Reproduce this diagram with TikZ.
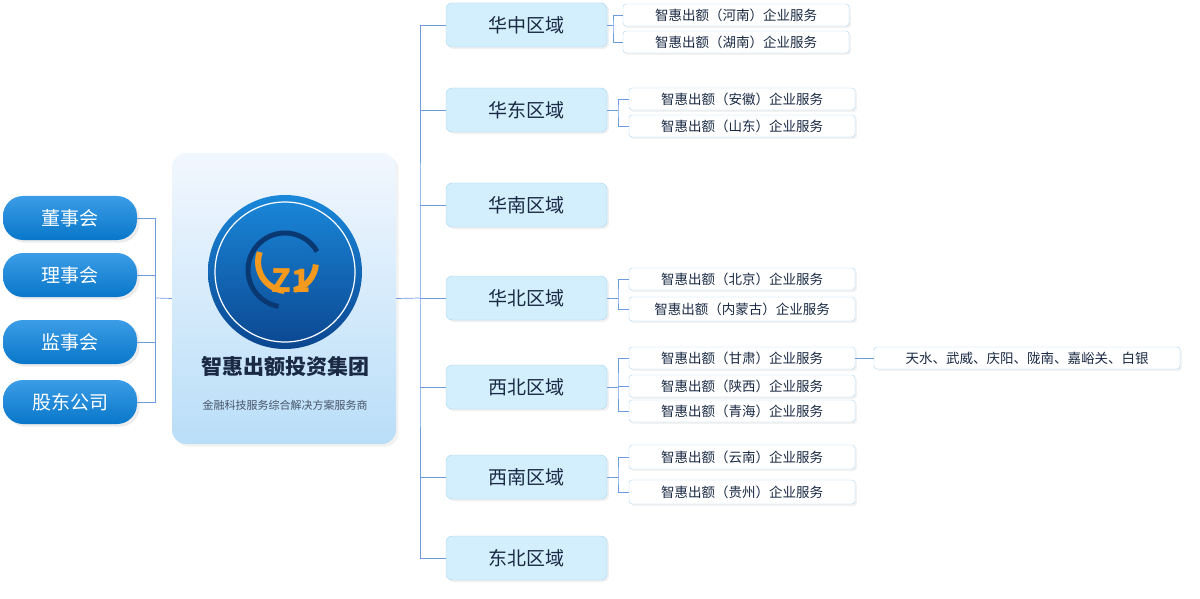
\documentclass[tikz,border=0pt]{standalone}
\usepackage{fontspec}
\setmainfont{Noto Sans CJK SC}
\usetikzlibrary{shadows}
\definecolor{ln}{HTML}{6C9BE0}
\definecolor{rf}{HTML}{D3EEFC}
\definecolor{rd}{HTML}{A9D4F2}
\definecolor{tx}{HTML}{1A2A44}
\definecolor{pb}{HTML}{0A84E0}
\definecolor{lgA}{HTML}{1A88DA}
\definecolor{lgB}{HTML}{0B4690}
\definecolor{orng}{HTML}{F39A1E}
\definecolor{cbot}{HTML}{B9DEF8}
\definecolor{ctop}{HTML}{F2F7FE}
\begin{document}
\begin{tikzpicture}[x=1pt,y=-1pt,
 region/.style={draw=rd,fill=rf,rounded corners=6pt,minimum width=161pt,minimum height=44pt,font=\fontsize{19}{19}\selectfont,text=tx,drop shadow={opacity=0.12,shadow xshift=2pt,shadow yshift=-2pt}},
 sub/.style={draw=rd,fill=white,rounded corners=3pt,minimum width=226pt,minimum height=22pt,font=\fontsize{13.5}{14}\selectfont,text=tx,drop shadow={opacity=0.1,shadow xshift=2pt,shadow yshift=-2pt}},
 pill/.style={rounded corners=20pt,minimum width=134pt,minimum height=44pt,top color=pb!80!white,bottom color=pb!90!black,text=white,font=\fontsize{19}{19}\selectfont,drop shadow={opacity=0.15}},
 conn/.style={draw=ln,line width=0.7pt}]
\useasboundingbox (0,0) rectangle (1200,599);
% left pills
\node[pill] (d) at (70,218) {董事会};
\node[pill] (l) at (70,275) {理事会};
\node[pill] (j) at (70,342) {监事会};
\node[pill] (g) at (70,402) {股东公司};
\coordinate (lb) at (155,298);
\draw[conn] (d.east) -| (lb) (l.east) -| (lb) (j.east) -| (lb) (g.east) -| (lb);
% center
\node[rounded corners=14pt,minimum width=224pt,minimum height=291pt,top color=ctop,bottom color=cbot,drop shadow={opacity=0.1}] (c) at (284,298.5) {};
\draw[conn] (lb) -- (c.west);
\node[circle,minimum size=154pt,inner sep=0pt,left color=lgA,right color=lgB,shading angle=135,top color=lgA,bottom color=lgB] (lg) at (285,272) {};
\draw[white,line width=1.2pt] (lg) circle (70);
\draw[lgB!80!black,line width=5pt] (285,270) ++(100:37) arc (100:330:37);
\draw[orng,line width=6pt] (287,262) ++(95:29) arc (95:200:29);
\draw[orng,line width=6pt] (287,262) ++(75:29) arc (75:5:29);
\node[text=orng,font=\bfseries\fontsize{32}{32}\selectfont] (zi) at (291,281) {Z1};
\node[font=\bfseries\fontsize{21}{21}\selectfont,text=tx] (t) at (285,366) {智惠出额投资集团};
\node[font=\fontsize{11}{11}\selectfont,text=tx!80] (st) at (285,405) {金融科技服务综合解决方案服务商};
% trunk
\coordinate (tr) at (420,298);
\draw[conn] (c.east) -- (tr);
\node[region] (r1) at (526.5,25) {华中区域};
\node[region] (r2) at (526.5,110) {华东区域};
\node[region] (r3) at (526.5,205) {华南区域};
\node[region] (r4) at (526.5,298) {华北区域};
\node[region] (r5) at (526.5,387) {西北区域};
\node[region] (r6) at (526.5,477) {西南区域};
\node[region] (r7) at (526.5,558) {东北区域};
\draw[conn] (r1.west) -| (tr) |- (r7.west);
\foreach \r in {r2,r3,r4,r5,r6} \draw[conn] (\r.west) -- (tr |- \r.west);
% subs
\node[sub] (a1) at (736,15) {智惠出额（河南）企业服务};
\node[sub] (a2) at (736,42) {智惠出额（湖南）企业服务};
\node[sub] (b1) at (742,99) {智惠出额（安徽）企业服务};
\node[sub] (b2) at (742,126) {智惠出额（山东）企业服务};
\node[sub] (c1) at (742,279) {智惠出额（北京）企业服务};
\node[sub,minimum height=24pt] (c2) at (742,309) {智惠出额（内蒙古）企业服务};
\node[sub] (e1) at (742,358) {智惠出额（甘肃）企业服务};
\node[sub] (e2) at (742,386) {智惠出额（陕西）企业服务};
\node[sub] (e3) at (742,411) {智惠出额（青海）企业服务};
\node[sub,minimum height=24pt] (f1) at (742,457) {智惠出额（云南）企业服务};
\node[sub,minimum height=24pt] (f2) at (742,492) {智惠出额（贵州）企业服务};
\node[sub,minimum width=306pt] (x1) at (1027,358) {天水、武威、庆阳、陇南、嘉峪关、白银};
\draw[conn] (e1.east) -- (x1.west);
\coordinate (k1) at (613,25);
\draw[conn] (r1.east) -- (k1) (a1.west) -| (k1) |- (a2.west);
\coordinate (k2) at (618,110);
\draw[conn] (r2.east) -- (k2) (b1.west) -| (k2) |- (b2.west);
\coordinate (k4) at (618,298);
\draw[conn] (r4.east) -- (k4) (c1.west) -| (k4) |- (c2.west);
\coordinate (k5) at (618,387);
\draw[conn] (r5.east) -- (k5) (e1.west) -| (k5) |- (e3.west) (e2.west) -- (k5 |- e2.west);
\coordinate (k6) at (618,477);
\draw[conn] (r6.east) -- (k6) (f1.west) -| (k6) |- (f2.west);
\end{tikzpicture}
\end{document}
